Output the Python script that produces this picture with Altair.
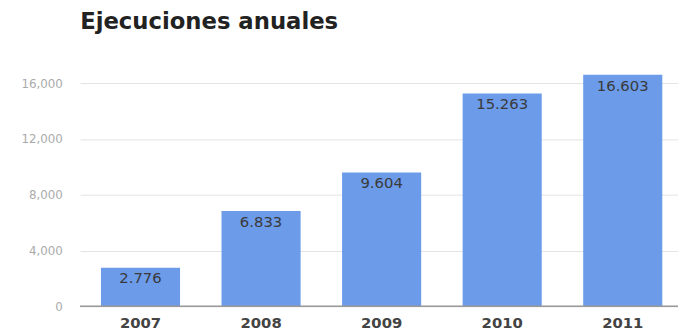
import altair as alt
import pandas as pd

years = ["2007", "2008", "2009", "2010", "2011"]
values = [2776, 6833, 9604, 15263, 16603]
labels = [f"{v:,}".replace(",", ".") for v in values]
y_ticks = [0, 4000, 8000, 12000, 16000]

df = pd.DataFrame({"year": years, "value": values, "label": labels})

x_enc = alt.X(
    "year:N",
    sort=years,
    scale=alt.Scale(paddingInner=0.344, paddingOuter=0.1516, align=0.57),
    axis=alt.Axis(
        title=None, labelAngle=0, ticks=False, domain=False,
        labelFont="DejaVu Sans", labelFontWeight="bold", labelFontSize=15,
        labelColor="#444444", labelPadding=9, labelBaseline="top",
    ),
)
y_enc = alt.Y(
    "value:Q",
    scale=alt.Scale(domain=[0, 18000], nice=False),
    axis=alt.Axis(
        title=None, values=y_ticks, format=",.0f", ticks=False, domain=False,
        labelFont="DejaVu Sans", labelFontSize=12, labelColor="#aaaaaa",
        labelPadding=18, grid=True, gridColor="#e3e3e3",
    ),
)

base = alt.Chart(df)
bars = base.mark_bar(color="#6b9be9").encode(x=x_enc, y=y_enc)
text = base.mark_text(
    baseline="top", dy=4, font="DejaVu Sans", fontSize=15, color="#3a3a3a"
).encode(x=alt.X("year:N", sort=years), y="value:Q", text="label:N")
zero = alt.Chart(df).mark_rule(color="#999999", strokeWidth=1).encode(y=alt.datum(0))

chart = (
    alt.layer(bars, text, zero)
    .properties(
        width=605,
        height=254,
        autosize=alt.AutoSizeParams(type="none"),
        padding={"left": 73, "top": 46, "right": 0, "bottom": 23},
        title=alt.TitleParams(
            "Ejecuciones anuales", anchor="start", frame="group", font="DejaVu Sans",
            fontSize=23, fontWeight="bold", color="#222222", offset=22,
        ),
    )
    .configure_view(stroke=None)
)

chart.save("out.html", embed_options={"renderer": "svg", "actions": False})
